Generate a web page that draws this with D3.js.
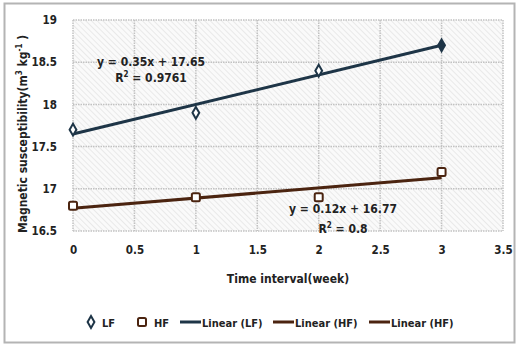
<!DOCTYPE html>
<html>
<head>
<meta charset="utf-8">
<script src="https://cdn.jsdelivr.net/npm/d3@7"></script>
<style>
  body { margin: 0; background: #fff; }
  svg text { font-family: "DejaVu Sans Condensed", "DejaVu Sans", Arial, sans-serif; font-weight: bold; fill: #222; }
</style>
</head>
<body>
<div id="chart"></div>
<script>
const weeks = [0, 1, 2, 3];
const lfValues = [17.7, 17.9, 18.4, 18.7];
const hfValues = [16.8, 16.9, 16.9, 17.2];
const xTicks = [0, 0.5, 1, 1.5, 2, 2.5, 3, 3.5];
const yTicks = [16.5, 17, 17.5, 18, 18.5, 19];
const legendItems = ['LF', 'HF', 'Linear (LF)', 'Linear (HF)', 'Linear (HF)'];

const width = 519, height = 347;
const margin = { top: 20, right: 16, bottom: 116, left: 73 };
const innerW = width - margin.left - margin.right;
const innerH = height - margin.top - margin.bottom;
const fontFam = '"DejaVu Sans Condensed", "DejaVu Sans", Arial, sans-serif';

const lfColor = '#1e3547';
const hfColor = '#4b2410';

// least squares fit
function fit(xs, ys) {
  const mx = d3.mean(xs), my = d3.mean(ys);
  const slope = d3.sum(xs, (x, i) => (x - mx) * (ys[i] - my)) / d3.sum(xs, x => (x - mx) ** 2);
  return { slope, intercept: my - slope * mx };
}

const svg = d3.select('#chart').append('svg')
  .attr('width', width).attr('height', height);

const defs = svg.append('defs');
const pat = defs.append('pattern')
  .attr('id', 'hatch').attr('width', 4).attr('height', 4)
  .attr('patternUnits', 'userSpaceOnUse')
  .attr('patternTransform', 'rotate(-45)');
pat.append('rect').attr('width', 4).attr('height', 4).attr('fill', '#fafafa');
pat.append('line').attr('x1', 0).attr('y1', 0).attr('x2', 0).attr('y2', 4)
  .attr('stroke', '#d9d9d9').attr('stroke-width', 1);

// outer frame
svg.append('rect').attr('x', 4.5).attr('y', 3.5).attr('width', 510).attr('height', 339)
  .attr('fill', '#fff').attr('stroke', '#b4b4b4').attr('stroke-width', 2);

const x = d3.scaleLinear().domain([0, 3.5]).range([0, innerW]);
const y = d3.scaleLinear().domain([16.5, 19]).range([innerH, 0]);

const g = svg.append('g').attr('transform', `translate(${margin.left},${margin.top})`);

g.append('rect').attr('width', innerW).attr('height', innerH).attr('fill', 'url(#hatch)');

// grid
g.append('g').selectAll('line').data(yTicks).join('line')
  .attr('x1', 0).attr('x2', innerW).attr('y1', d => y(d)).attr('y2', d => y(d))
  .attr('stroke', '#c2c2c2').attr('stroke-width', 1.5).attr('stroke-dasharray', '1.5,1');
g.append('g').selectAll('line').data(xTicks).join('line')
  .attr('y1', 0).attr('y2', innerH).attr('x1', d => x(d)).attr('x2', d => x(d))
  .attr('stroke', '#c2c2c2').attr('stroke-width', 1.5).attr('stroke-dasharray', '1.5,1');

// axes
const xAxis = g.append('g').attr('transform', `translate(0,${innerH})`)
  .call(d3.axisBottom(x).tickValues(xTicks).tickFormat(d3.format('')).tickSize(0).tickPadding(15));
const yAxis = g.append('g')
  .call(d3.axisLeft(y).tickValues(yTicks).tickFormat(d3.format('')).tickSize(0).tickPadding(16));
[xAxis, yAxis].forEach(a => {
  a.select('.domain').remove();
  a.selectAll('text').attr('font-size', 11.5).attr('fill', '#222')
    .style('font-family', fontFam).style('font-weight', 'bold');
});

// trendlines
const lfFit = fit(weeks, lfValues);
const hfFit = fit(weeks, hfValues);
[[lfFit, lfColor], [hfFit, hfColor]].forEach(([f, c]) => {
  g.append('line')
    .attr('x1', x(0)).attr('y1', y(f.intercept))
    .attr('x2', x(3)).attr('y2', y(f.intercept + 3 * f.slope))
    .attr('stroke', c).attr('stroke-width', 3);
});

// markers
const diamond = d3.symbol().type(d3.symbolDiamond).size(40);
g.selectAll('.lf').data(weeks).join('path').attr('class', 'lf')
  .attr('d', diamond)
  .attr('transform', (d, i) => `translate(${x(d)},${y(lfValues[i])})`)
  .attr('fill', (d, i) => i === 3 ? lfColor : '#fff').attr('stroke', lfColor).attr('stroke-width', 2);
g.selectAll('.hf').data(weeks).join('rect').attr('class', 'hf')
  .attr('x', d => x(d) - 4).attr('y', (d, i) => y(hfValues[i]) - 4)
  .attr('width', 8).attr('height', 8).attr('rx', 1.5)
  .attr('fill', '#fff').attr('stroke', hfColor).attr('stroke-width', 2);

// equations
const eq = (f, cx, cy, gap, r2) => {
  const t = g.append('g').attr('font-size', 12);
  t.append('text').attr('x', cx).attr('y', cy).attr('text-anchor', 'middle')
    .text(`y = ${f.slope.toFixed(2)}x + ${f.intercept.toFixed(2)}`);
  const r = t.append('text').attr('x', cx).attr('y', cy + gap).attr('text-anchor', 'middle');
  r.append('tspan').text('R');
  r.append('tspan').attr('font-size', 8).attr('dy', -5).text('2');
  r.append('tspan').attr('dy', 5).text(` = ${r2}`);
};
eq(lfFit, 78, 46, 16, '0.9761');
eq(hfFit, 270, 193, 20, '0.8');

// axis titles
svg.append('text').attr('x', 288).attr('y', 283).attr('text-anchor', 'middle')
  .attr('font-size', 12).text('Time interval(week)');
const yt = svg.append('text').attr('transform', 'translate(27,134) rotate(-90)')
  .attr('text-anchor', 'middle').attr('font-size', 12);
yt.append('tspan').text('Magnetic susceptibility(m');
yt.append('tspan').attr('font-size', 8).attr('dy', -5).text('3');
yt.append('tspan').attr('dy', 5).text(' kg');
yt.append('tspan').attr('font-size', 8).attr('dy', -5).text('-1');
yt.append('tspan').attr('dy', 5).text(' )');

// legend
const legX = [88, 139, 180, 273, 369];
const leg = svg.append('g').attr('transform', 'translate(0,322)');
legendItems.forEach((name, i) => {
  const li = leg.append('g').attr('transform', `translate(${legX[i]},0)`);
  let tx;
  if (i === 0) {
    li.append('path').attr('d', diamond).attr('transform', 'translate(3,0)')
      .attr('fill', '#fff').attr('stroke', lfColor).attr('stroke-width', 2);
    tx = 14;
  } else if (i === 1) {
    li.append('rect').attr('x', -1).attr('y', -4).attr('width', 8).attr('height', 8).attr('rx', 1.5)
      .attr('fill', '#fff').attr('stroke', hfColor).attr('stroke-width', 2);
    tx = 15;
  } else {
    li.append('line').attr('x1', 0).attr('x2', 21).attr('y1', 0).attr('y2', 0)
      .attr('stroke', i === 2 ? lfColor : hfColor).attr('stroke-width', 3);
    tx = 22;
  }
  li.append('text').attr('x', tx).attr('y', 5).attr('font-size', 11).text(name);
});
</script>
</body>
</html>
